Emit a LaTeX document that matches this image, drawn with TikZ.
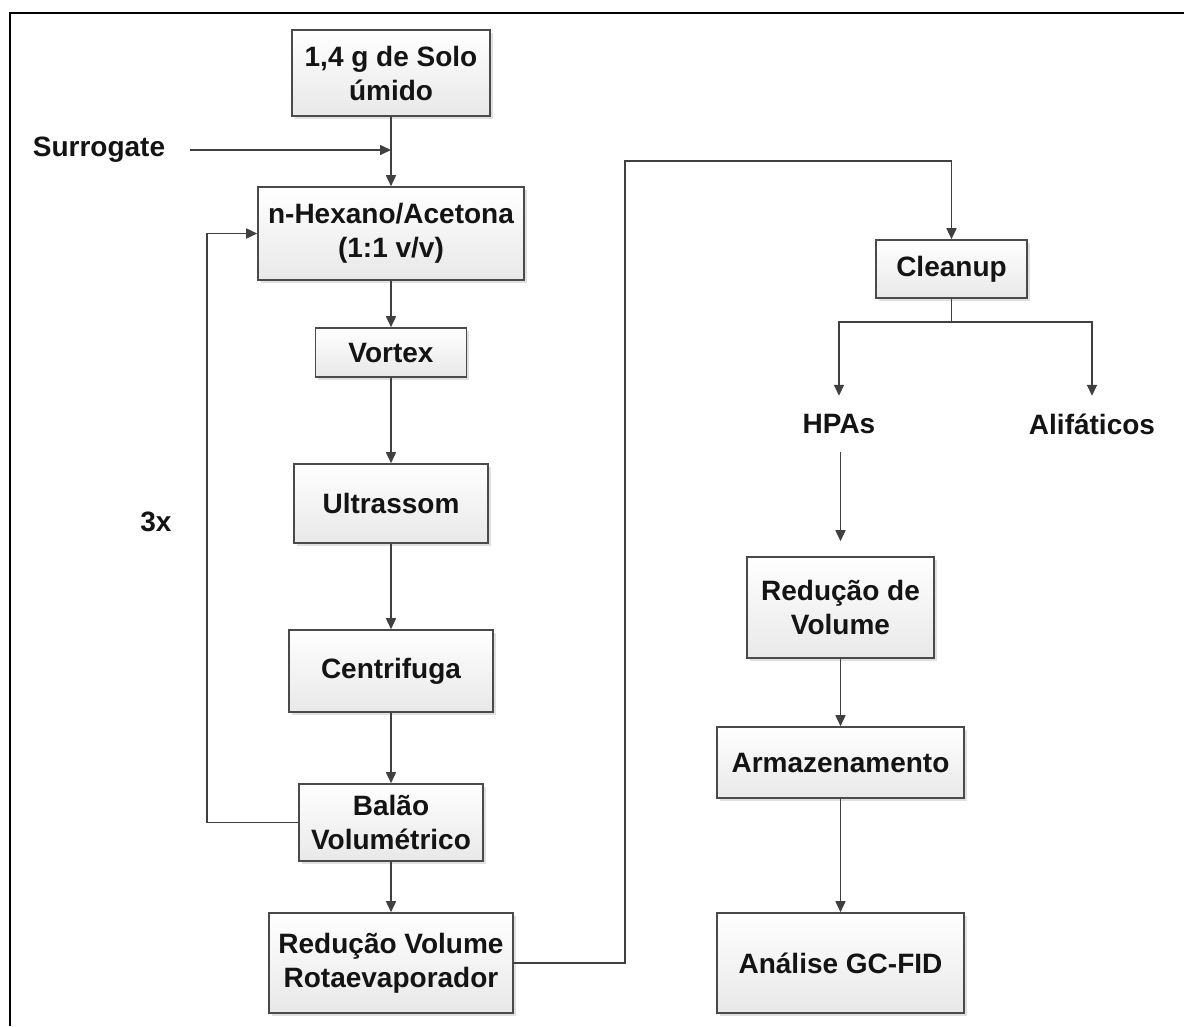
\documentclass[tikz,border=0pt]{standalone}
\usepackage{fontspec}
\setmainfont{Liberation Sans}
\usetikzlibrary{arrows.meta,shadows}
\definecolor{edge}{HTML}{4A4A4A}
\definecolor{lin}{HTML}{404040}
\definecolor{txt}{HTML}{141414}
\begin{document}
\begin{tikzpicture}[x=1pt,y=-1pt,
  font=\fontsize{28}{34}\selectfont\bfseries,
  every node/.style={text=txt},
  box/.style={draw=edge, line width=1.6pt, top color=white, bottom color=black!9,
    align=center, inner sep=0pt,
    drop shadow={shadow xshift=2.5pt, shadow yshift=-2.5pt, opacity=0.12, fill=black}},
  lbl/.style={inner sep=0pt, align=center},
  arr/.style={draw=lin, line width=1.6pt, -{Triangle[length=11pt,width=10pt]}},
  con/.style={draw=lin, line width=1.6pt}]
\useasboundingbox (0,0) rectangle (1184,1026);
\draw[line width=2.5pt, black] (10,1026) -- (10,13) -- (1184,13);

\node[box, minimum width=198pt, minimum height=86pt] (solo) at (391,73) {1,4 g de Solo\\úmido};
\node[lbl] (surr) at (99,150) {Surrogate};
\coordinate (sa) at (190,150);
\coordinate (sj) at (391,150);
\node[box, minimum width=266pt, minimum height=93pt] (hex) at (391,233.5) {n-Hexano/Acetona\\(1:1 v/v)};
\node[box, minimum width=151pt, minimum height=49pt] (vortex) at (391,352.5) {Vortex};
\node[box, minimum width=194pt, minimum height=79pt] (ultra) at (391,503.5) {Ultrassom};
\node[box, minimum width=204pt, minimum height=82pt] (centri) at (391,671) {Centrifuga};
\node[box, minimum width=184pt, minimum height=77pt] (balao) at (391,822.5) {Balão\\Volumétrico};
\node[box, minimum width=244pt, minimum height=100pt] (redu) at (391,963) {Redução Volume\\Rotaevaporador};
\node[lbl] (tres) at (156,522) {3x};
\coordinate (lp) at (207,822.5);
\coordinate (up) at (625,161);

\node[box, minimum width=151pt, minimum height=58pt] (clean) at (951.5,269) {Cleanup};
\coordinate (br) at (951.5,322);
\node[lbl, minimum height=56pt] (hpas) at (839,424) {HPAs};
\node[lbl, minimum height=56pt] (alif) at (1092,424) {Alifáticos};
\node[box, minimum width=187pt, minimum height=101pt] (redvol) at (840.5,607.5) {Redução de\\Volume};
\node[box, minimum width=247pt, minimum height=71pt] (armaz) at (840.5,762.5) {Armazenamento};
\node[box, minimum width=247pt, minimum height=100pt] (anal) at (840.5,963) {Análise GC-FID};

\draw[arr] (solo) -- (hex);
\draw[arr] (sa) -- (sj);
\draw[arr] (hex) -- (vortex);
\draw[arr] (vortex) -- (ultra);
\draw[arr] (ultra) -- (centri);
\draw[arr] (centri) -- (balao);
\draw[arr] (balao) -- (redu);
\draw[arr] (balao.west) -- (lp) |- (hex.west);
\draw[arr] (redu.east) -| (up) -| (clean.north);
\draw[con] (clean.south) -- (br);
\draw[arr] (br) -| (hpas.north);
\draw[arr] (br) -| (alif.north);
\draw[arr, shorten >=15pt] (hpas.south -| redvol.north) -- (redvol.north);
\draw[arr] (redvol) -- (armaz);
\draw[arr] (armaz) -- (anal);
\end{tikzpicture}
\end{document}
